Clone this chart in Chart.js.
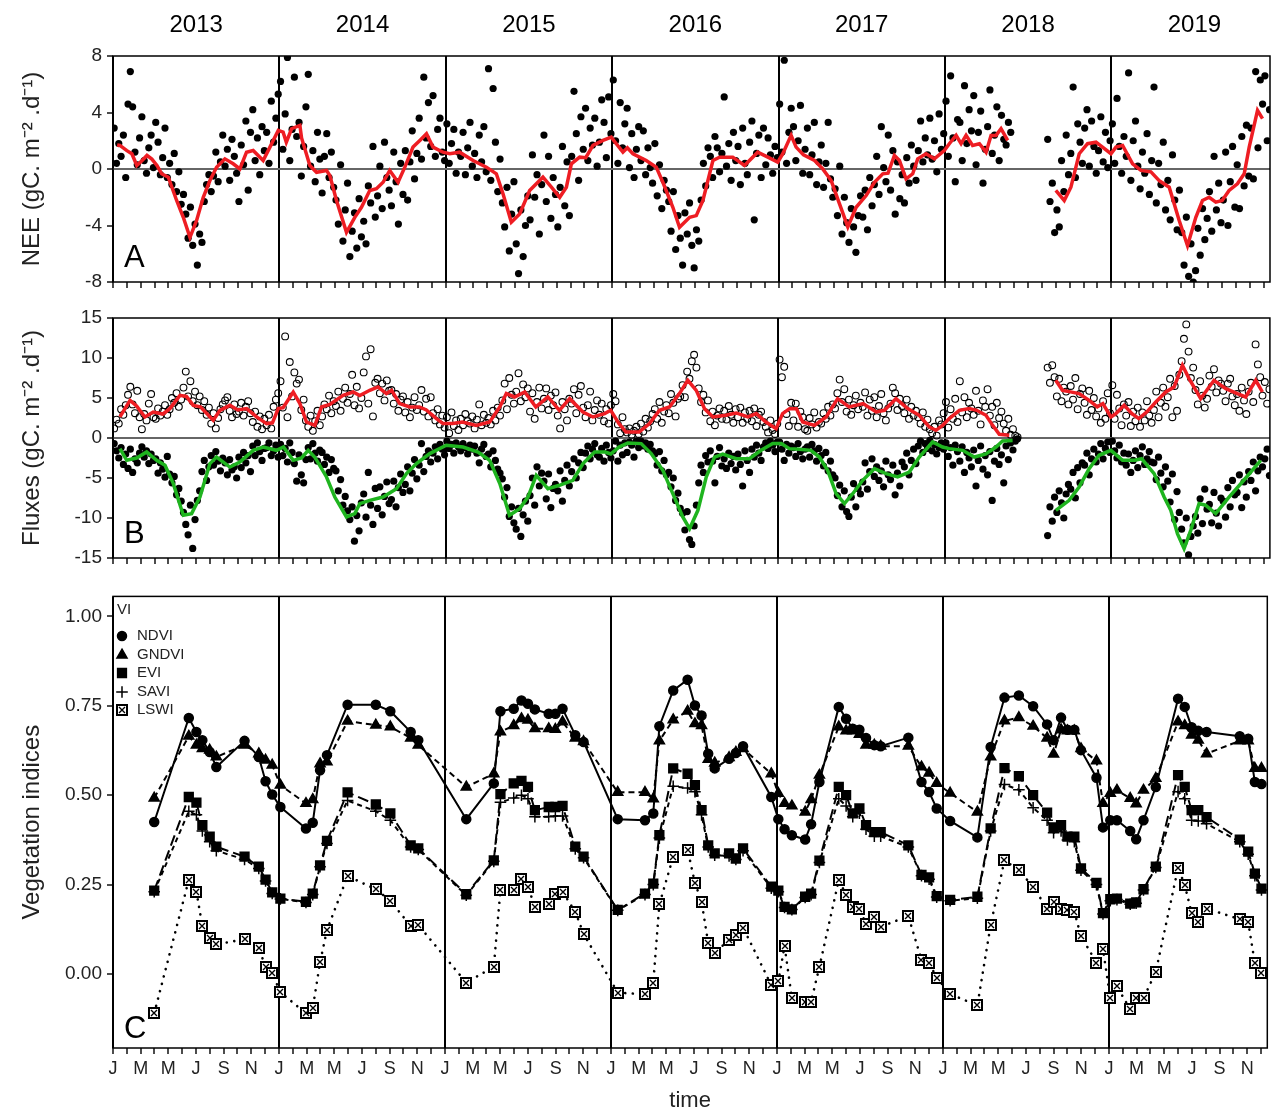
<!DOCTYPE html>
<html>
<head>
<meta charset="utf-8">
<script src="https://cdn.jsdelivr.net/npm/chart.js@4.4.1/dist/chart.umd.min.js"></script>
<style>
  html, body { margin: 0; padding: 0; background: #fff; }
  #wrap { position: relative; width: 1275px; height: 1114px; overflow: hidden; }
  #wrap canvas { position: absolute; left: 0; }
</style>
</head>
<body>
<div id="wrap">
  <canvas id="neeChart" width="1275" height="300" style="top:0"></canvas>
  <canvas id="fluxChart" width="1275" height="280" style="top:300px"></canvas>
  <canvas id="viChart" width="1275" height="534" style="top:580px"></canvas>
</div>
<script>
// ---- axis labels ----
const YEARS = ['2013', '2014', '2015', '2016', '2017', '2018', '2019'];
const MONTH_LETTERS = ['J', 'F', 'M', 'A', 'M', 'J', 'J', 'A', 'S', 'O', 'N', 'D'];
const X_MAX = 83.45;          // months since Jan 2013
const DOT_STEP = 1 / 6;       // sampled daily fluxes, ~5 days apart

// ---- panel A: NEE, sampled daily values (6 per month), one row per year ----
const neeDots = [
  /*2013*/ 2.9,0.4,1.8,0.9,2.4,-0.6, 4.6,6.9,4.4,1.2,0.3,2.2, 3.7,0.6,-0.3,1.5,2.4,0.1, 3.3,1.9,-0.4,0.8,2.9,-0.6, 0.4,-1.1,1.1,-1.6,-0.2,-2.5, -1.8,-3.2,-4.9,-2.7,-5.4,-3.9, -6.8,-4.6,-5.2,-2.3,-1.1,-0.4, -1.6,-0.5,1.2,-0.9,0.5,2.4, 0.2,1.4,-0.8,2.1,0.9,-0.3, -2.3,1.7,0.3,3.4,-1.5,2.6, 4.2,0.6,2.2,-0.4,3.0,1.3, 2.6,0.4,4.8,1.9,3.6,5.3,
  /*2014*/ 6.2,1.4,3.9,7.9,0.6,2.8, 6.5,2.3,3.3,-0.5,1.6,4.4, 6.7,0.2,1.3,-0.9,2.6,0.7, -1.7,0.9,2.5,-0.6,1.2,-1.3, -2.2,-3.9,0.3,-5.1,-2.9,-1.0, -6.2,-4.4,-3.1,-5.6,-2.1,-4.8, -3.7,-5.3,-1.2,-2.4,1.6,-3.4, -1.9,0.2,-2.8,1.9,-0.6,-1.5, -2.6,1.2,-0.9,-3.9,0.4,-1.8, 1.3,-2.2,0.5,2.7,-0.7,1.1, 3.6,0.7,6.5,2.2,4.7,1.6, 5.2,0.9,2.8,3.6,1.2,0.6,
  /*2015*/ 3.2,0.4,1.8,2.8,-0.3,1.2, 0.9,2.6,-0.4,1.5,3.3,0.2, 1.1,-0.6,2.4,0.5,3.0,-0.2, 7.1,-0.8,5.7,1.9,-1.6,0.7, -2.4,-4.1,-1.3,-5.8,-3.2,-0.9, -5.3,-7.4,-2.9,-6.2,-4.0,-1.9, -3.6,1.0,-2.0,-0.4,-4.6,-1.1, 2.4,-2.3,0.9,-3.5,-0.6,-1.8, -4.1,-1.3,1.6,-2.6,0.5,-3.3, 0.9,5.5,2.5,-0.8,3.7,1.4, 4.3,0.6,2.9,1.7,3.6,0.2, 1.9,4.9,3.3,0.8,5.1,2.5,
  /*2016*/ 6.3,2.0,0.4,4.7,1.5,3.2, 4.3,0.1,2.5,-0.6,1.4,3.0, 0.6,2.7,-0.4,1.5,0.1,-1.0, 1.8,-1.9,0.3,-2.8,-0.8,-1.5, -2.3,-4.4,-1.6,-5.7,-3.3,-4.9, -6.8,-3.1,-4.6,-2.4,-5.4,-7.0, -4.3,-5.1,-2.2,0.4,-1.2,1.5, 0.9,-0.6,2.3,1.5,-0.2,1.1, 5.1,0.2,1.8,-0.8,2.6,0.6, 1.6,-1.1,2.9,0.4,-0.4,1.9, 3.4,-3.6,1.1,2.4,-0.6,2.9, 0.3,2.2,1.0,-0.3,1.6,0.8,
  /*2017*/ 4.6,1.2,7.7,0.4,2.6,4.3, 3.0,0.6,2.0,4.5,-0.3,1.4, 2.9,-0.4,1.0,3.3,-1.1,0.5, 1.7,-1.3,0.4,3.3,-0.7,-2.0, -1.4,-3.3,0.2,-4.6,-2.0,-3.8, -5.2,-2.8,-4.1,-5.9,-3.3,-1.9, -3.4,-1.5,-4.3,-0.6,-2.6,-1.1, 0.9,-1.8,3.0,0.1,-0.9,2.4, -1.5,1.3,-3.2,0.5,-2.1,-0.4, -2.4,0.8,-1.0,1.7,0.2,-0.8, 1.3,3.4,0.5,2.2,1.0,3.6, 0.7,2.0,-0.2,3.9,1.4,2.5,
  /*2018*/ 4.8,0.9,6.6,2.2,-0.9,3.5, 3.3,0.6,5.9,1.8,4.2,2.7, 5.2,0.3,2.6,4.1,-1.0,1.4, 3.0,5.6,1.1,2.4,4.4,0.6, 3.8,2.1,1.7,3.3,2.6,null, null,null,null,null,null,null, null,null,null,null,null,null, null,null,2.1,-2.3,-1.0,-4.5, -2.9,-4.1,0.6,-1.6,2.4,-0.4, 1.1,5.8,-0.6,3.2,1.9,0.4, 2.9,4.2,0.2,3.4,1.6,-0.3, 1.3,3.7,0.5,2.6,0.1,2.0,
  /*2019*/ 3.2,0.4,5.0,1.6,-0.3,2.3, 0.9,6.8,-0.8,2.0,3.4,0.2, -1.4,1.2,-0.3,2.5,-1.8,0.6, 5.8,-2.4,0.4,-1.1,1.9,-2.9, -0.8,-3.6,1.0,-2.2,-4.3,-1.5, -4.5,-6.8,-3.4,-7.6,-5.3,-8.0, -7.2,-4.2,-6.1,-2.8,-5.0,-3.5, -1.6,-4.4,0.9,-2.9,-1.0,-3.8, -2.2,1.2,-4.0,-0.9,1.6,-2.7, 0.3,-2.8,2.3,-1.2,3.1,-0.5, 2.9,-0.7,6.9,1.5,6.3,4.6, 6.6,2.0,4.2
];
// smoothed NEE [month, value]
const neeSmooth = [
  [0.3,1.7],[0.5,1.67],[1.0,1.3],[1.36,1.08],[1.72,0.25],[2.1,0.6],[2.45,0.96],[2.8,0.7],[3.17,0.25],[3.51,-0.34],[3.99,-0.58],[4.59,-2.23],[5.07,-3.42],[5.55,-4.84],[6.03,-3.65],[6.51,-2.0],[6.99,-0.82],[7.47,0.13],[8.07,0.72],[8.67,0.37],[9.15,0.0],[9.63,1.19],[10.11,1.31],[10.83,0.6],[11.32,1.55],[11.92,2.73],
  [12.27,2.61],[12.5,1.9],[12.88,2.85],[13.48,3.09],[13.6,2.2],[14.2,0.25],[14.68,-0.23],[15.4,-0.1],[15.64,-0.46],[16.12,-2.23],[16.84,-4.48],[17.44,-3.42],[17.92,-2.71],[18.52,-1.52],[19.0,-1.4],[19.48,-0.94],[19.96,-0.1],[20.56,-0.94],[21.05,0.13],[21.64,1.55],[22.13,2.02],[22.61,2.5],[23.08,1.55],[23.8,1.19],
  [24.29,1.08],[25.0,1.19],[25.97,0.6],[26.93,0.13],[27.65,-0.34],[28.13,-1.76],[28.73,-3.77],[29.33,-3.18],[30.05,-1.52],[31.01,-0.58],[31.62,-1.29],[32.22,-2.0],[32.7,-1.29],[33.06,0.37],[33.66,0.84],[34.1,0.8],[34.62,1.67],[35.34,2.02],[35.94,2.26],
  [36.3,1.79],[36.78,1.19],[37.1,1.5],[37.5,1.08],[38.46,0.6],[39.18,0.13],[39.66,-0.94],[40.38,-2.71],[40.86,-4.13],[41.59,-3.42],[42.07,-3.3],[42.55,-2.23],[43.27,0.6],[43.75,0.84],[44.7,0.84],[45.55,0.25],[46.5,1.19],[47.23,0.84],[47.95,0.48],
  [48.31,1.08],[48.91,2.38],[49.27,1.55],[49.8,1.0],[50.6,0.6],[51.19,0.01],[51.8,-0.82],[52.4,-2.47],[53.0,-4.1],[53.6,-2.71],[54.32,-1.88],[54.92,-0.94],[55.52,-0.34],[55.9,-0.3],[56.36,0.96],[56.72,0.6],[57.2,-0.7],[57.68,-0.34],[58.04,0.72],[58.64,1.08],[59.24,0.72],[59.96,1.31],
  [60.32,1.79],[60.81,2.38],[61.17,1.79],[61.53,2.38],[62.0,1.67],[62.49,1.79],[62.97,1.19],[63.33,2.38],[63.69,2.38],[64.05,2.85],[64.53,2.02],[65.5,null],[68.0,-1.52],[68.61,-2.23],[69.09,-1.29],[69.69,1.08],[70.29,1.79],[70.9,1.9],[71.3,1.6],[71.98,1.08],
  [72.34,1.55],[72.82,1.67],[73.54,0.37],[74.14,-0.1],[74.86,-0.2],[75.46,-0.82],[76.18,-1.29],[76.9,-3.65],[77.5,-5.43],[78.1,-3.42],[78.58,-2.23],[79.06,-2.0],[79.54,-2.35],[80.0,-2.23],[80.5,-1.52],[81.1,-1.05],[81.59,-0.34],[81.95,1.55],[82.55,4.15],[82.91,3.56]
];

// ---- panel B: respiration (open) and GPP (filled), sampled daily values ----
const recoDots = [
  /*2013*/ 1.2,2.3,1.8,3.6,2.9,4.1, 5.4,6.4,4.2,3.1,5.9,2.6, 1.1,3.0,2.2,4.3,5.5,2.6, 2.4,3.7,2.8,3.3,4.1,2.9, 3.6,5.0,4.4,5.6,3.9,4.8, 6.3,8.3,5.2,7.1,4.6,5.8, 4.1,5.2,3.5,4.6,2.9,3.8, 1.8,3.1,1.2,2.5,3.6,4.2, 4.7,5.1,3.4,2.6,4.2,3.0, 3.3,4.4,2.8,3.9,4.6,3.1, 2.0,3.3,1.4,2.7,1.1,2.4, 1.6,2.9,1.2,3.9,4.8,5.6,
  /*2014*/ 7.1,3.8,12.7,2.6,9.5,5.2, 8.2,6.8,7.3,3.5,4.8,2.2, 1.4,2.8,0.9,2.1,3.4,1.6, 2.7,4.2,3.6,5.3,3.1,4.6, 4.0,5.8,3.4,4.9,6.3,4.4, 5.5,7.9,4.1,6.4,3.7,5.0, 8.2,10.2,4.3,11.1,2.7,6.9, 7.4,5.6,6.8,4.7,7.2,5.9, 6.0,4.3,5.5,3.4,4.8,5.2, 3.2,4.5,2.6,3.8,5.1,3.5, 4.1,6.0,3.3,4.9,2.7,5.1, 3.1,2.2,3.6,1.7,2.8,1.3,
  /*2015*/ 2.6,0.6,3.2,1.5,2.2,1.0, 2.4,1.6,3.0,2.1,1.8,2.7, 1.2,2.3,4.2,1.6,2.9,1.9, 2.5,1.7,3.4,2.2,3.8,2.8, 4.7,6.8,3.6,7.5,5.4,4.3, 5.8,8.1,4.6,6.7,5.1,6.2, 3.3,5.6,2.4,4.5,6.3,3.7, 4.9,6.2,3.5,5.3,4.1,5.7, 2.8,1.2,4.5,3.6,2.2,4.9, 4.3,6.1,3.1,5.4,6.5,3.8, 2.6,4.1,5.8,2.2,3.5,4.7, 2.9,4.3,2.1,3.6,1.8,4.1,
  /*2016*/ 5.5,4.6,1.7,0.6,2.6,1.1, 0.7,1.2,0.4,0.9,1.4,0.5, 1.8,0.8,2.4,1.3,2.1,3.0, 3.6,2.4,4.5,1.9,3.3,4.1, 3.1,5.5,4.4,2.7,4.9,5.2, 6.6,5.1,8.3,7.4,9.6,10.4, 8.8,6.2,4.5,5.4,3.2,4.7, 2.1,3.3,1.6,2.8,3.7,2.4, 3.4,2.3,4.0,2.9,1.9,3.6, 2.6,3.8,1.9,3.2,2.4,3.4, 2.1,3.7,1.5,2.9,3.3,2.0, 1.4,0.7,2.2,1.0,0.5,1.8,
  /*2017*/ 9.8,7.6,8.9,3.0,1.5,4.4, 2.2,4.3,1.4,3.3,2.6,1.1, 0.9,2.5,1.7,3.2,1.3,2.0, 1.8,3.1,2.4,3.9,2.8,4.2, 3.7,5.6,7.3,4.5,6.1,3.3, 4.8,2.9,4.1,5.3,3.6,4.4, 3.9,5.7,2.8,4.8,3.4,5.1, 2.6,4.0,5.5,3.1,2.2,3.7, 4.3,6.3,5.6,3.5,4.9,4.0, 3.1,4.8,2.4,3.9,2.8,3.4, 2.6,1.8,3.2,1.4,2.3,1.1, 0.6,1.4,0.3,2.2,1.7,3.1,
  /*2018*/ 4.5,1.3,3.6,2.4,4.9,2.0, 7.1,3.2,5.1,2.6,4.4,3.7, 2.9,5.9,3.4,1.7,4.7,3.9, 6.1,2.8,3.9,1.6,4.4,2.5, 3.3,1.8,0.9,2.4,0.4,1.1, 0.3,0.1,null,null,null,null, null,null,null,null,null,null, null,null,8.8,6.9,9.1,7.6, 5.2,7.4,4.6,6.3,5.8,4.2, 6.5,4.8,7.5,3.6,5.5,6.2, 4.4,2.9,5.9,3.5,5.0,2.7, 3.7,1.9,4.6,2.4,5.6,3.1,
  /*2019*/ 6.6,2.4,5.4,3.7,1.6,4.2, 2.8,4.5,1.5,3.3,2.1,3.8, 1.4,3.2,2.2,4.6,2.8,1.9, 3.5,5.8,2.6,4.4,6.3,3.9, 5.1,7.4,2.6,6.5,3.4,7.9, 9.6,12.4,14.2,10.8,7.5,8.8, 6.0,4.2,7.1,5.3,3.8,4.9, 7.8,6.4,8.6,5.7,7.2,6.8, 5.9,4.6,6.8,7.4,5.2,4.1, 5.5,3.4,6.3,4.7,3.0,5.8, 6.9,4.5,11.7,9.2,7.6,5.3, 7.0,4.3,6.1
];
const gppDots = [
  /*2013*/ -0.7,-1.6,-2.5,-1.2,-3.3,-2.0, -3.8,-1.4,-4.3,-2.6,-3.1,-1.9, -1.1,-2.4,-1.6,-3.2,-2.0,-2.8, -2.6,-4.4,-3.1,-3.9,-4.9,-2.3, -4.5,-5.6,-4.8,-7.1,-6.3,-7.9, -9.3,-10.8,-12.1,-8.4,-13.8,-10.2, -7.8,-6.6,-4.2,-2.8,-5.3,-3.6, -2.2,-3.4,-1.7,-2.9,-4.1,-2.5, -3.1,-4.6,-2.7,-4.0,-3.6,-5.0, -2.4,-3.7,-1.8,-3.1,-2.2,-4.2, -1.0,-2.2,-0.6,-1.7,-2.8,-1.3, -1.2,-0.6,-2.2,-1.6,-0.9,-2.4,
  /*2014*/ -0.8,-2.2,-1.3,-3.0,-0.6,-1.8, -3.2,-5.4,-2.1,-4.6,-5.6,-2.7, -1.2,-2.6,-0.7,-1.9,-2.9,-1.5, -1.8,-3.3,-2.4,-4.3,-2.7,-3.8, -4.1,-6.6,-5.2,-8.4,-7.3,-9.1, -10.2,-8.6,-12.9,-9.7,-11.6,-8.1, -7.0,-9.9,-4.3,-8.4,-10.8,-6.3, -8.8,-6.1,-9.6,-7.3,-5.5,-8.2, -7.7,-5.4,-8.6,-6.2,-4.5,-6.8, -5.8,-3.6,-6.6,-4.4,-2.7,-5.1, -3.4,-0.7,-4.2,-2.3,-1.6,-3.0, -1.9,-1.1,-2.6,-0.8,-1.4,-2.1,
  /*2015*/ -0.4,-1.3,-0.8,-1.9,-0.6,-1.1, -1.6,-0.7,-1.2,-2.0,-0.9,-1.4, -1.0,-1.9,-3.1,-1.4,-0.8,-2.3, -2.0,-3.6,-1.6,-2.8,-3.9,-4.4, -5.1,-7.4,-6.2,-9.8,-8.6,-10.6, -11.4,-8.8,-12.3,-9.6,-7.9,-10.4, -7.2,-5.0,-8.4,-3.6,-6.0,-4.4, -5.4,-7.6,-4.5,-8.7,-6.3,-5.8, -6.6,-4.1,-7.9,-5.3,-3.4,-6.0, -4.2,-2.6,-5.0,-3.1,-1.8,-3.7, -1.9,-1.0,-2.6,-1.4,-0.7,-2.1, -2.4,-1.3,-2.9,-0.9,-1.8,-2.5,
  /*2016*/ -1.6,-0.4,-2.9,-0.9,-2.1,-0.6, -1.8,-0.5,-0.9,-2.4,-0.4,-1.2, -0.4,-1.0,-0.6,-1.4,-0.8,-1.6, -2.0,-3.4,-1.7,-4.1,-2.8,-4.6, -4.3,-6.1,-5.0,-7.8,-6.9,-8.8, -9.4,-11.5,-9.2,-12.7,-13.3,-11.0, -8.4,-5.6,-3.4,-4.3,-2.2,-3.0, -1.6,-2.9,-5.6,-2.3,-1.2,-3.5, -2.6,-3.8,-1.9,-3.2,-2.3,-4.0, -2.0,-3.3,-6.0,-1.6,-2.8,-4.3, -1.4,-2.4,-0.9,-1.9,-2.8,-1.1, -0.6,-1.3,-0.4,-0.9,-1.7,-0.5,
  /*2017*/ -0.5,-1.4,-2.8,-0.8,-1.9,-1.0, -1.2,-2.3,-0.7,-1.7,-2.6,-1.4, -1.1,-2.4,-0.8,-1.6,-2.9,-1.3, -2.2,-3.5,-1.8,-4.1,-2.9,-4.6, -5.0,-7.2,-5.9,-8.6,-6.6,-9.2, -9.8,-7.4,-5.7,-8.6,-6.3,-7.0, -5.5,-3.1,-6.4,-4.2,-2.6,-4.8, -3.6,-5.3,-4.1,-6.1,-2.9,-4.6, -5.2,-3.4,-7.1,-4.4,-6.0,-3.0, -3.6,-1.9,-4.6,-2.8,-1.4,-3.2, -1.0,-0.4,-1.8,-0.7,-1.3,-0.3, -1.6,-0.8,-2.0,-1.2,-0.6,-1.4,
  /*2018*/ -0.6,-2.3,-1.2,-3.4,-0.9,-1.7, -2.9,-1.1,-4.3,-1.8,-2.5,-3.6, -1.5,-6.0,-2.8,-1.0,-3.9,-2.2, -4.6,-1.7,-7.8,-2.9,-1.3,-3.3, -2.1,-5.6,-1.0,-2.7,-0.6,-1.5, -0.4,-0.1,null,null,null,null, null,null,null,null,null,null, null,null,-12.2,-8.6,-10.4,-7.4, -9.3,-6.6,-8.1,-10.0,-7.0,-5.8, -6.4,-4.3,-7.5,-3.7,-5.6,-3.1, -3.4,-1.9,-4.6,-2.6,-1.4,-3.0, -2.0,-0.7,-2.6,-1.3,-0.5,-1.8,
  /*2019*/ -0.4,-1.6,-2.5,-0.9,-3.0,-1.9, -3.4,-2.0,-4.3,-2.8,-1.6,-3.7, -2.2,-1.1,-3.3,-2.6,-1.7,-3.0, -3.1,-5.2,-2.4,-4.4,-6.1,-3.6, -5.4,-8.0,-4.5,-10.2,-6.7,-9.3, -11.4,-13.1,-10.0,-14.6,-12.3,-11.0, -9.8,-11.9,-7.6,-10.7,-6.4,-8.9, -8.3,-10.6,-6.8,-9.4,-11.0,-7.5, -7.9,-9.9,-6.2,-8.6,-5.3,-7.1, -6.8,-4.6,-8.7,-5.5,-7.4,-4.2, -5.3,-3.0,-6.6,-4.1,-2.4,-3.6, -2.6,-1.4,-4.7
];
const recoSmooth = [
  [0.5,2.63],[1.23,4.7],[1.7,4.0],[2.3,2.63],[2.9,3.25],[3.6,3.0],[4.1,3.67],[4.83,5.33],[5.3,5.2],[5.79,4.08],[6.3,3.9],[7.23,2.21],[7.71,3.46],[8.43,4.08],[9.0,3.5],[9.64,3.67],[10.36,2.63],[11.08,1.8],[11.5,1.9],[11.92,3.67],
  [12.27,3.8],[13.0,5.75],[13.48,4.3],[13.96,2.0],[14.56,1.58],[15.04,3.88],[15.64,4.2],[16.6,5.33],[17.32,5.75],[17.8,5.3],[18.52,5.96],[19.12,6.38],[19.72,5.55],[20.1,5.96],[20.68,4.3],[21.4,3.88],[22.1,3.88],[22.6,3.5],[23.33,2.42],[23.8,1.8],
  [24.5,1.8],[25.2,2.0],[26.2,1.58],[27.17,2.0],[27.9,3.88],[28.37,5.55],[28.97,5.13],[29.7,5.75],[30.5,3.88],[31.37,5.13],[32.2,3.46],[32.94,4.92],[33.9,3.25],[34.62,2.63],[35.46,3.05],[35.9,3.46],
  [36.5,1.8],[37.0,0.75],[37.95,0.75],[38.7,1.8],[39.42,3.46],[40.14,3.88],[40.86,5.55],[41.46,7.21],[42.07,5.96],[42.67,3.67],[43.27,2.63],[44.2,2.84],[44.95,3.13],[45.8,2.63],[46.4,3.05],[47.1,2.0],[47.83,1.17],
  [48.3,3.05],[48.8,3.67],[49.3,3.67],[49.75,2.0],[50.6,1.58],[51.44,2.63],[52.27,4.92],[53.1,3.88],[54.1,4.3],[55.05,3.25],[55.64,3.46],[56.48,4.92],[57.32,3.67],[58.16,2.84],[58.88,1.38],[59.36,0.96],[59.84,1.58],
  [60.32,2.42],[61.05,3.46],[61.77,3.67],[62.3,3.46],[62.97,2.84],[63.45,1.58],[63.93,0.46],[64.65,0.33],[66.0,null],[68.0,7.21],[68.49,5.96],[68.97,5.8],[69.69,5.55],[70.41,4.71],[71.0,3.9],[71.4,4.3],[71.98,2.63],
  [72.34,3.05],[72.94,4.08],[73.5,3.05],[74.0,2.42],[74.6,3.3],[75.22,4.5],[75.94,5.75],[76.54,6.38],[77.14,9.09],[77.62,7.42],[78.46,4.92],[79.42,7.21],[80.27,6.17],[81.1,5.55],[81.7,5.13],[82.43,7.21],[82.91,5.75]
];
const gppSmooth = [
  [0.5,-1.33],[0.99,-2.79],[1.7,-2.5],[2.43,-1.75],[3.15,-2.79],[3.75,-3.41],[4.35,-5.7],[5.07,-9.66],[5.67,-9.45],[6.27,-7.38],[6.99,-3.2],[7.47,-2.38],[8.43,-3.63],[9.15,-3.0],[10.11,-1.54],[10.83,-1.13],[11.8,-1.54],
  [12.3,-1.13],[13.0,-2.79],[13.6,-2.5],[14.08,-1.54],[14.56,-2.4],[15.4,-4.87],[16.0,-7.38],[16.84,-9.87],[17.44,-9.45],[17.8,-8.2],[18.52,-7.79],[19.48,-7.38],[20.45,-6.33],[21.17,-4.45],[21.89,-3.2],[22.85,-1.95],[24.04,-0.91],
  [25.25,-1.13],[26.33,-1.75],[27.17,-2.79],[27.9,-5.7],[28.6,-9.66],[29.33,-8.83],[29.93,-7.38],[30.53,-4.66],[31.37,-6.33],[32.2,-5.91],[33.17,-5.29],[33.9,-3.2],[34.74,-1.75],[35.5,-1.75],[35.9,-2.0],
  [36.5,-1.13],[37.14,-0.62],[38.1,-0.7],[38.82,-1.95],[39.66,-4.04],[40.38,-6.96],[41.1,-9.87],[41.59,-11.33],[42.19,-9.04],[42.79,-4.87],[43.39,-2.38],[43.99,-2.0],[44.95,-2.58],[45.9,-2.58],[46.75,-1.54],[47.59,-0.7],[48.2,-0.7],
  [48.79,-1.33],[49.5,-1.4],[50.34,-1.54],[50.95,-2.38],[51.55,-4.04],[52.16,-6.96],[52.76,-8.2],[53.36,-6.96],[54.08,-5.29],[54.92,-3.83],[55.76,-4.45],[56.6,-4.87],[57.44,-4.25],[58.16,-2.38],[59.12,-0.5],[59.84,-1.13],
  [60.32,-1.33],[61.29,-1.54],[62.13,-2.38],[62.97,-2.0],[63.69,-1.13],[64.17,-0.37],[64.89,-0.3],[66.0,null],[68.01,-9.04],[68.97,-7.79],[69.69,-6.12],[70.41,-3.83],[71.13,-2.16],[71.98,-1.54],
  [72.82,-2.79],[73.7,-2.79],[74.2,-2.6],[75.1,-4.45],[75.82,-7.38],[76.3,-9.04],[76.78,-11.95],[77.26,-13.83],[77.74,-11.54],[78.34,-8.2],[78.8,-8.4],[79.54,-9.45],[80.5,-7.38],[81.46,-5.5],[82.79,-2.79]
];

// ---- panel C: vegetation indices at image dates (month since Jan 2013) ----
const viMonth = [2.98,5.48,6.03,6.46,6.99,7.47,9.51,10.54,11.03,11.51, 12.10,13.95,14.44,14.97,15.47,16.96,19.00,20.05,21.52,22.07, 25.54,27.53,28.01,28.97,29.53,30.00,30.50,31.50,31.98,32.50,33.42,34.02, 36.49,38.46,39.06,39.50,40.50,41.54,42.07,42.55,43.03,43.50,44.54,45.03,45.55,47.59, 48.10,48.55,49.08,50.04,50.47,51.07,52.47,53.00,53.48,53.96,54.44,55.04,55.50,57.50,58.45,59.00,59.55, 60.52,62.49,63.45,64.45,65.49,66.52,67.53,68.00,68.54,69.00,69.50,69.98,71.10,71.57,72.10, 72.58,73.54,73.97,74.50,75.39,77.00,77.48,77.98,78.46,79.06,81.46,82.07,82.55,83.03];
const ndvi = [0.425,0.716,0.677,0.654,0.621,0.579,0.652,0.607,0.539,0.502, 0.467,0.407,0.423,0.570,0.612,0.753,0.753,0.735,0.677,0.654, 0.433,0.533,0.735,0.742,0.765,0.756,0.740,0.728,0.728,0.742,0.668,0.649, 0.433,0.430,0.449,0.693,0.793,0.823,0.751,0.723,0.616,0.575,0.602,0.618,0.637,0.495, 0.433,0.405,0.388,0.376,0.419,0.537,0.747,0.714,0.686,0.683,0.660,0.640,0.637,0.661,0.537,0.509,0.463, 0.428,0.382,0.635,0.773,0.779,0.749,0.698,0.654,0.717,0.683,0.683,0.626,0.549,0.410,0.430, 0.430,0.400,0.377,0.430,0.523,0.770,0.747,0.690,0.680,0.677,0.665,0.658,0.537,0.531];
const gndvi = [0.492,0.665,0.640,0.630,0.626,0.607,0.640,0.616,0.598,0.584, 0.528,0.477,0.488,0.588,0.593,0.707,0.696,0.691,0.660,0.640, 0.523,0.560,0.677,0.695,0.714,0.710,0.686,0.686,0.684,0.705,0.660,0.650, 0.508,0.508,0.490,0.652,0.711,0.735,0.700,0.695,0.600,0.590,0.605,0.620,0.630,0.560, 0.505,0.477,0.470,0.453,0.488,0.556,0.691,0.680,0.680,0.670,0.640,0.640,0.637,0.637,0.579,0.562,0.533, 0.506,0.453,0.607,0.708,0.717,0.693,0.660,0.615,0.683,0.680,0.680,0.630,0.596,0.477,0.505, 0.514,0.491,0.476,0.514,0.547,0.705,0.695,0.668,0.654,0.616,0.652,0.652,0.575,0.575];
const evi = [0.233,0.495,0.479,0.416,0.384,0.356,0.328,0.300,0.264,0.228, 0.211,0.202,0.225,0.304,0.372,0.508,0.474,0.449,0.360,0.351, 0.223,0.318,0.503,0.533,0.540,0.523,0.458,0.467,0.467,0.470,0.356,0.328, 0.179,0.225,0.253,0.388,0.575,0.560,0.528,0.458,0.360,0.337,0.337,0.323,0.351,0.244, 0.233,0.188,0.181,0.216,0.225,0.317,0.523,0.500,0.449,0.463,0.416,0.397,0.397,0.360,0.277,0.270,0.218, 0.207,0.216,0.407,0.576,0.553,0.500,0.451,0.410,0.416,0.384,0.384,0.295,0.255,0.170,0.209, 0.211,0.197,0.200,0.237,0.300,0.556,0.523,0.458,0.458,0.439,0.376,0.342,0.281,0.239];
const savi = [0.230,0.455,0.445,0.400,0.370,0.345,0.320,0.295,0.260,0.225, 0.210,0.200,0.222,0.300,0.365,0.485,0.455,0.430,0.355,0.348, 0.220,0.315,0.480,0.492,0.500,0.490,0.440,0.440,0.442,0.442,0.350,0.325, 0.178,0.222,0.250,0.380,0.525,0.520,0.510,0.445,0.355,0.332,0.330,0.320,0.345,0.240, 0.230,0.186,0.180,0.214,0.222,0.312,0.490,0.470,0.440,0.450,0.405,0.385,0.385,0.355,0.275,0.265,0.215, 0.205,0.212,0.400,0.530,0.515,0.465,0.430,0.395,0.400,0.375,0.370,0.290,0.250,0.168,0.205, 0.208,0.195,0.198,0.235,0.298,0.510,0.490,0.430,0.428,0.420,0.370,0.335,0.275,0.235];
const lswi = [-0.110,0.263,0.230,0.134,0.100,0.083,0.097,0.072,0.020,0.002, -0.051,-0.110,-0.096,0.033,0.123,0.274,0.237,0.205,0.134,0.137, -0.024,0.020,0.235,0.235,0.267,0.244,0.188,0.197,0.225,0.230,0.174,0.112, -0.052,-0.057,-0.024,0.195,0.328,0.348,0.255,0.202,0.086,0.060,0.095,0.109,0.130,-0.031, -0.021,0.078,-0.068,-0.079,-0.077,0.020,0.263,0.221,0.188,0.181,0.140,0.160,0.132,0.162,0.039,0.030,-0.010, -0.056,-0.088,0.137,0.318,0.290,0.244,0.183,0.202,0.183,0.180,0.174,0.106,0.032,0.069,-0.068, -0.035,-0.099,-0.068,-0.068,0.006,0.297,0.249,0.170,0.146,0.183,0.153,0.144,0.030,0.002];

// ---- helpers ----
const FONT = '"Liberation Sans", Arial, Helvetica, sans-serif';
Chart.defaults.font.family = FONT;
Chart.defaults.color = '#222';

const dots = arr => arr.map((v, i) => ({ x: i * DOT_STEP + DOT_STEP / 2, y: v }));
const pairs = arr => arr.map(([x, y]) => ({ x, y }));
const viSeries = vals => vals.map((y, i) => ({ x: viMonth[i], y }));
const CLEAR = 'rgba(0,0,0,0)';

// square with a cross, used for LSWI
function crossBox(size) {
  const c = document.createElement('canvas');
  c.width = c.height = size;
  const g = c.getContext('2d');
  g.fillStyle = '#fff';
  g.fillRect(0, 0, size, size);
  g.strokeStyle = '#000';
  g.lineWidth = 2;
  g.strokeRect(1, 1, size - 2, size - 2);
  g.lineWidth = 1.4;
  g.beginPath();
  g.moveTo(3, 3); g.lineTo(size - 3, size - 3);
  g.moveTo(size - 3, 3); g.lineTo(3, size - 3);
  g.stroke();
  return c;
}

// box frame, panel letter and year headings
const panelDecor = {
  id: 'panelDecor',
  beforeDatasetsDraw(chart) {
    chart.ctx.imageSmoothingEnabled = false;
  },
  afterDraw(chart, args, opts) {
    const { ctx, chartArea: a } = chart;
    ctx.save();
    ctx.strokeStyle = '#000';
    ctx.lineWidth = 1.5;
    ctx.strokeRect(a.left, a.top, a.right - a.left, a.bottom - a.top);
    ctx.fillStyle = '#000';
    if (opts.letter) {
      ctx.font = '31px ' + FONT;
      ctx.textAlign = 'left';
      ctx.textBaseline = 'alphabetic';
      ctx.fillText(opts.letter, a.left + 11, a.bottom - opts.lift);
    }
    if (opts.years) {
      const x = chart.scales.x;
      ctx.font = '24px ' + FONT;
      ctx.textAlign = 'center';
      ctx.textBaseline = 'middle';
      YEARS.forEach((y, k) => ctx.fillText(y, x.getPixelForValue(12 * k + 6), 25));
    }
    ctx.restore();
  }
};

// legend drawn inside the top-left of panel C
const viLegend = {
  id: 'viLegend',
  afterDraw(chart, args, opts) {
    const { ctx, chartArea: a } = chart;
    ctx.save();
    ctx.imageSmoothingEnabled = false;
    ctx.font = '15px ' + FONT;
    ctx.textAlign = 'left';
    ctx.textBaseline = 'middle';
    ctx.fillStyle = '#222';
    ctx.fillText(opts.title, a.left + 4, a.top + 13);
    chart.data.datasets.forEach((ds, i) => {
      const y = Math.round(a.top + 40 + i * 18.5);
      ctx.fillStyle = '#000';
      ctx.strokeStyle = '#000';
      ctx.lineWidth = 1.5;
      Chart.helpers.drawPoint(ctx, { pointStyle: ds.pointStyle, radius: ds.pointRadius, borderWidth: 1.5, rotation: 0 }, a.left + 9, y);
      ctx.fillStyle = '#222';
      ctx.fillText(ds.label, a.left + 24, y);
    });
    ctx.restore();
  }
};

function timeAxis(showLabels, axisHeight) {
  return {
    type: 'linear',
    min: 0,
    max: X_MAX,
    afterBuildTicks: s => {
      s.ticks = [];
      for (let m = 0; m <= 83; m++) s.ticks.push({ value: m });
    },
    afterFit: s => { s.height = axisHeight; },
    ticks: {
      autoSkip: false, maxRotation: 0, minRotation: 0, padding: 4,
      color: '#222', font: { size: 18 },
      callback: v => (showLabels && v % 2 === 0) ? MONTH_LETTERS[v % 12] : ''
    },
    grid: {
      color: c => (c.tick && c.tick.value % 12 === 0) ? '#000' : CLEAR,
      lineWidth: 2,
      tickColor: '#000', tickLength: 6, tickWidth: 1.4
    },
    border: { display: false },
    title: showLabels
      ? { display: true, text: 'time', font: { size: 22 }, color: '#222', padding: { top: 0, bottom: 0 } }
      : { display: false }
  };
}

function valueAxis(min, max, step, title, tickValues, fmt) {
  return {
    type: 'linear',
    min, max,
    afterBuildTicks: tickValues ? (s => { s.ticks = tickValues.map(v => ({ value: v })); }) : undefined,
    afterFit: s => { s.width = 113; },
    ticks: { stepSize: step, padding: 5, color: '#222', font: { size: 19 }, callback: fmt || (v => String(v)) },
    grid: {
      color: c => (c.tick && c.tick.value === 0 && !tickValues) ? '#666' : CLEAR,
      lineWidth: 2,
      tickColor: '#000', tickLength: 6, tickWidth: 1.4
    },
    border: { display: false },
    title: { display: true, text: title, font: { size: 24 }, color: '#222', padding: { top: 18, bottom: 0 } }
  };
}

const baseOptions = (padTop) => ({
  responsive: false,
  animation: false,
  events: [],
  layout: { padding: { top: padTop, right: 5, left: 0, bottom: 0 } },
  plugins: { legend: { display: false }, tooltip: { enabled: false } }
});

// ---- panel A ----
const optA = baseOptions(56);
optA.scales = { x: timeAxis(false, 18), y: valueAxis(-8, 8, 4, 'NEE (gC. m\u207B\u00B2 .d\u207B\u00B9)') };
optA.plugins.panelDecor = { letter: 'A', lift: 15, years: true };
new Chart(document.getElementById('neeChart'), {
  type: 'scatter',
  data: {
    datasets: [
      { data: pairs(neeSmooth), showLine: true, borderColor: '#ee1d23', borderWidth: 3.5, pointRadius: 0, order: 0 },
      { data: dots(neeDots), backgroundColor: '#000', borderWidth: 0, pointRadius: 3.6, order: 1 }
    ]
  },
  options: optA,
  plugins: [panelDecor]
});

// ---- panel B ----
const optB = baseOptions(18);
optB.scales = { x: timeAxis(false, 22), y: valueAxis(-15, 15, 5, 'Fluxes (gC. m\u207B\u00B2 .d\u207B\u00B9)') };
optB.plugins.panelDecor = { letter: 'B', lift: 15 };
new Chart(document.getElementById('fluxChart'), {
  type: 'scatter',
  data: {
    datasets: [
      { data: pairs(recoSmooth), showLine: true, borderColor: '#ee1d23', borderWidth: 3.5, pointRadius: 0, order: 0 },
      { data: pairs(gppSmooth), showLine: true, borderColor: '#1fb41f', borderWidth: 3.5, pointRadius: 0, order: 0 },
      { data: dots(recoDots), backgroundColor: CLEAR, borderColor: '#000', borderWidth: 1.1, pointRadius: 3.4, order: 1 },
      { data: dots(gppDots), backgroundColor: '#000', borderWidth: 0, pointRadius: 3.6, order: 1 }
    ]
  },
  options: optB,
  plugins: [panelDecor]
});

// ---- panel C ----
const optC = baseOptions(15);
optC.scales = {
  x: timeAxis(true, 66),
  y: valueAxis(-0.207, 1.056, 0.25, 'Vegetation indices', [0, 0.25, 0.5, 0.75, 1], v => v.toFixed(2))
};
optC.plugins.panelDecor = { letter: 'C', lift: 10 };
optC.plugins.viLegend = { title: 'VI' };
const viStyle = (label, vals, pointStyle, pointRadius, dash) => ({
  label, data: viSeries(vals), showLine: true,
  borderColor: '#000', borderWidth: 2, borderDash: dash,
  pointStyle, pointRadius, pointBackgroundColor: '#000', pointBorderColor: '#000', pointBorderWidth: 1.5
});
const lswiSet = viStyle('LSWI', lswi, crossBox(12), 6, [0.1, 7.5]);
lswiSet.borderWidth = 2.6;
lswiSet.borderCapStyle = 'round';
new Chart(document.getElementById('viChart'), {
  type: 'scatter',
  data: {
    datasets: [
      viStyle('NDVI', ndvi, 'circle', 4.5, []),
      viStyle('GNDVI', gndvi, 'triangle', 5.8, [6, 4]),
      viStyle('EVI', evi, 'rect', 6.2, [11, 5]),
      viStyle('SAVI', savi, 'cross', 5.8, [5, 4]),
      lswiSet
    ]
  },
  options: optC,
  plugins: [panelDecor, viLegend]
});
</script>
</body>
</html>
